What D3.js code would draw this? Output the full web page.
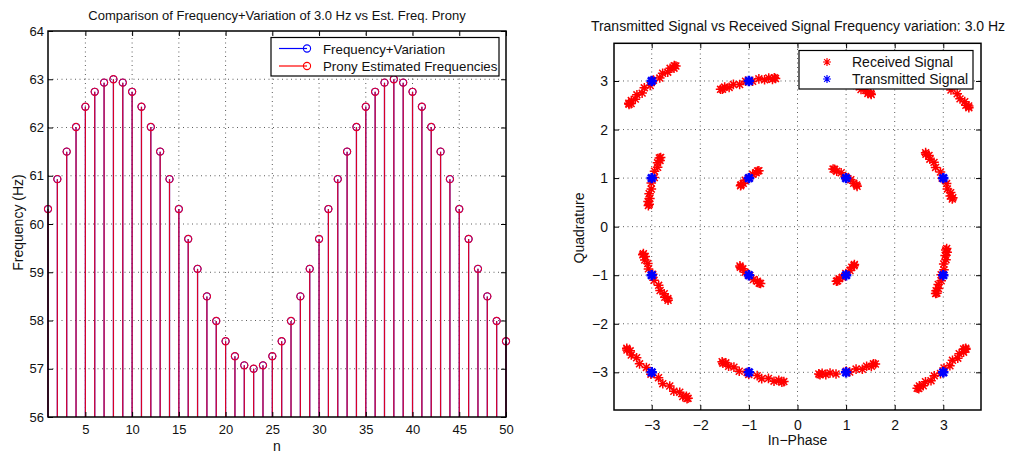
<!DOCTYPE html>
<html>
<head>
<meta charset="utf-8">
<script src="https://cdn.jsdelivr.net/npm/d3@7/dist/d3.min.js"></script>
<style>
  html, body { margin: 0; padding: 0; background: #fff; }
  svg text { font-family: "Liberation Sans", Arial, Helvetica, sans-serif; fill: #111; }
</style>
</head>
<body>
<svg id="chart" width="1011" height="454"></svg>
<script>
// ---- Left panel: frequency with variation vs Prony estimates ----
const sampleIndex = [1,2,3,4,5,6,7,8,9,10,11,12,13,14,15,16,17,18,19,20,21,22,23,24,25,
                     26,27,28,29,30,31,32,33,34,35,36,37,38,39,40,41,42,43,44,45,46,47,48,49,50];
const freqVariation = [60.31,60.93,61.50,62.01,62.43,62.74,62.93,63.00,62.93,62.74,62.43,62.01,61.50,60.93,60.31,
                       59.69,59.07,58.50,57.99,57.57,57.26,57.07,57.00,57.07,57.26,57.57,57.99,58.50,59.07,59.69,
                       60.31,60.93,61.50,62.01,62.43,62.74,62.93,63.00,62.93,62.74,62.43,62.01,61.50,60.93,60.31,
                       59.69,59.07,58.50,57.99,57.57];
const pronyEstimate = [60.31,60.93,61.50,62.01,62.43,62.74,62.93,63.00,62.93,62.74,62.43,62.01,61.50,60.93,60.31,
                       59.69,59.07,58.50,57.99,57.57,57.26,57.07,57.00,57.07,57.26,57.57,57.99,58.50,59.07,59.69,
                       60.31,60.93,61.50,62.01,62.43,62.74,62.93,63.00,62.93,62.74,62.43,62.01,61.50,60.93,60.31,
                       59.69,59.07,58.50,57.99,57.57];
const leftXTicks = [5,10,15,20,25,30,35,40,45,50];
const leftYTicks = [56,57,58,59,60,61,62,63,64];
const leftLegend = ["Frequency+Variation", "Prony Estimated Frequencies"];

// ---- Right panel: 16-QAM constellation, transmitted and received ----
const symI = [-3,-1, 1, 3,-3,-1, 1, 3,-3,-1, 1, 3,-3,-1, 1, 3];
const symQ = [ 3, 3, 3, 3, 1, 1, 1, 1,-1,-1,-1,-1,-3,-3,-3,-3];
// received samples per symbol: phase offset (degrees) and amplitude gain
const recvPhase = [
  [-7.9,-7.6,-7.1,-6.2,-5.0,-3.7,-2.2,-0.5,1.2,2.8,4.3,5.6,6.8,7.8,8.5,8.8,9.0],
  [-10.0,-9.6,-8.8,-7.5,-5.8,-3.8,-1.3,1.2,3.7,5.8,7.7,9.1,10.2,10.8],
  [-10.7,-10.3,-9.4,-8.1,-6.4,-4.2,-1.6,1.0,3.6,5.8,7.8,9.3,10.4,11.0],
  [-10.2,-9.8,-9.2,-8.2,-6.8,-5.2,-3.3,-1.3,0.7,2.5,4.3,6.0,7.4,8.6,9.4,9.8,10.0],
  [-8.4,-8.0,-7.3,-6.1,-4.6,-2.8,-0.5,1.8,4.0,5.9,7.6,8.9,9.8,10.4],
  [-10.4,-9.4,-7.5,-4.5,-0.6,3.4,6.4,8.3,9.3],
  [-10.9,-9.7,-7.3,-3.6,1.2,6.0,9.7,12.1,13.3],
  [-8.3,-7.9,-7.1,-5.9,-4.3,-2.3,0.1,2.5,4.8,6.8,8.6,10.0,11.0,11.6],
  [-8.5,-8.1,-7.3,-6.1,-4.6,-2.6,-0.2,2.1,4.5,6.5,8.3,9.6,10.6,11.2],
  [-10.7,-9.6,-7.3,-3.9,0.7,5.2,8.6,10.9,12.0],
  [-9.5,-8.5,-6.4,-3.3,0.9,5.1,8.2,10.3,11.3],
  [-7.4,-7.1,-6.4,-5.3,-3.9,-2.2,-0.1,2.0,4.1,5.9,7.4,8.7,9.5,10.1],
  [-9.5,-9.1,-8.4,-7.3,-5.8,-4.0,-2.0,0.2,2.4,4.4,6.3,8.1,9.6,11.0,11.8,12.3,12.5],
  [-10.7,-10.2,-9.3,-7.8,-5.9,-3.5,-0.6,0.2,3.3,5.2,7.6,9.8,11.5,12.7,13.4],
  [-10.2,-9.8,-8.9,-7.6,-5.9,-3.8,0.2,1.3,3.9,6.0,7.9,9.4,10.5,11.1],
  [-8.5,-8.2,-7.6,-6.7,-5.5,-4.1,-2.5,-0.8,1.0,2.6,4.2,5.6,6.8,7.9,8.6,8.9,9.1]
];
const recvGain = [
  [0.978,0.984,0.975,0.986,0.979,0.991,0.983,0.997,0.990,1.003,0.994,1.008,1.001,1.012,1.004,1.014,1.010],
  [0.975,0.981,0.973,0.986,0.980,0.995,0.991,1.006,0.999,1.016,1.010,1.025,1.019,1.025],
  [0.985,0.990,0.981,0.992,0.984,0.995,0.987,0.997,0.991,1.001,0.994,1.004,0.997,1.000],
  [1.012,1.016,1.007,1.013,1.003,1.008,0.997,1.004,0.991,0.996,0.985,0.990,0.980,0.986,0.977,0.983,0.980],
  [0.998,1.004,0.993,1.001,0.989,0.998,0.985,0.993,0.982,0.989,0.978,0.986,0.976,0.980],
  [0.990,0.998,0.989,1.005,0.999,1.017,1.010,1.024,1.020],
  [1.047,1.052,1.033,1.034,1.010,1.010,0.988,0.994,0.985],
  [1.023,1.028,1.014,1.021,1.006,1.010,0.993,0.996,0.978,0.982,0.967,0.973,0.960,0.963],
  [1.018,1.023,1.010,1.017,1.003,1.008,0.992,0.997,0.981,0.986,0.971,0.978,0.965,0.969],
  [1.014,1.020,1.005,1.012,0.995,1.001,0.986,0.994,0.987],
  [0.975,0.982,0.972,0.987,0.979,0.995,0.986,1.000,0.995],
  [0.999,1.005,0.994,1.002,0.990,0.999,0.986,0.994,0.982,0.990,0.979,0.988,0.977,0.981],
  [1.017,1.021,1.011,1.019,1.007,1.015,1.002,1.009,0.996,1.004,0.991,0.999,0.986,0.995,0.984,0.992,0.988],
  [1.007,1.013,1.002,1.014,1.004,1.015,1.005,1.014,1.005,1.017,1.006,1.018,1.008,1.018,1.013],
  [0.969,0.976,0.968,0.981,0.976,0.992,0.993,1.006,1.003,1.020,1.014,1.029,1.021,1.028],
  [0.976,0.982,0.973,0.984,0.976,0.989,0.982,0.995,0.988,1.001,0.993,1.006,0.998,1.010,1.001,1.011,1.007]
];
const rightTicks = [-3,-2,-1,0,1,2,3];
const rightLegend = ["Received Signal", "Transmitted Signal"];

const svg = d3.select("#chart");

// dotted grid helper
function grid(g, xs, ys, xVals, yVals) {
  const [x0, x1] = xs.range(), [y0, y1] = ys.range();
  g.selectAll("line.gx").data(xVals).join("line").attr("class", "gx")
    .attr("x1", d => xs(d)).attr("x2", d => xs(d)).attr("y1", y0).attr("y2", y1);
  g.selectAll("line.gy").data(yVals).join("line").attr("class", "gy")
    .attr("y1", d => ys(d)).attr("y2", d => ys(d)).attr("x1", x0).attr("x2", x1);
  g.selectAll("line").attr("stroke", "#333").attr("stroke-width", 0.8)
    .attr("stroke-dasharray", "1,3.5");
}

// box with inward ticks on all four sides
function frame(g, xs, ys, xTicks, yTicks, opt) {
  const [x0, x1] = xs.range(), [y0, y1] = ys.range();
  const styleAxis = a => {
    a.select(".domain").remove();
    a.selectAll(".tick line").attr("stroke", "#000").attr("stroke-width", 1);
    a.selectAll(".tick text").attr("font-size", opt.font).attr("fill", "#111")
      .attr("font-family", '"Liberation Sans", Arial, Helvetica, sans-serif');
  };
  const fmt = d3.format("d");
  g.append("g").attr("transform", `translate(0,${y0})`)
    .call(d3.axisBottom(xs).tickValues(xTicks).tickSize(-5).tickPadding(opt.padX).tickFormat(fmt)).call(styleAxis);
  g.append("g").attr("transform", `translate(0,${y1})`)
    .call(d3.axisTop(xs).tickValues(xTicks).tickSize(-5).tickFormat("")).call(styleAxis);
  g.append("g").attr("transform", `translate(${x0},0)`)
    .call(d3.axisLeft(ys).tickValues(yTicks).tickSize(-5).tickPadding(opt.padY).tickFormat(fmt)).call(styleAxis);
  g.append("g").attr("transform", `translate(${x1},0)`)
    .call(d3.axisRight(ys).tickValues(yTicks).tickSize(-5).tickFormat("")).call(styleAxis);
  g.append("rect").attr("x", x0).attr("y", y1).attr("width", x1 - x0).attr("height", y0 - y1)
    .attr("fill", "none").attr("stroke", "#000").attr("stroke-width", 1.5);
}

// ================= Left panel =================
const xL = d3.scaleLinear().domain([1, 50]).range([48, 506]);
const yL = d3.scaleLinear().domain([56, 64]).range([417, 31]);
const gL = svg.append("g");

grid(gL.append("g"), xL, yL, leftXTicks.filter(d => d < 50), leftYTicks.filter(d => d > 56 && d < 64));

const stemsBlue = gL.append("g");
stemsBlue.selectAll("line").data(freqVariation).join("line")
  .attr("x1", (d, i) => xL(sampleIndex[i])).attr("x2", (d, i) => xL(sampleIndex[i]))
  .attr("y1", yL(56)).attr("y2", d => yL(d))
  .attr("stroke", "#0000ff").attr("stroke-width", 1.2);
stemsBlue.selectAll("circle").data(freqVariation).join("circle")
  .attr("cx", (d, i) => xL(sampleIndex[i])).attr("cy", d => yL(d)).attr("r", 3.6)
  .attr("fill", "none").attr("stroke", "#0000ff").attr("stroke-width", 1);

const stemsRed = gL.append("g");
stemsRed.selectAll("line").data(pronyEstimate).join("line")
  .attr("x1", (d, i) => xL(sampleIndex[i])).attr("x2", (d, i) => xL(sampleIndex[i]))
  .attr("y1", yL(56)).attr("y2", d => yL(d))
  .attr("stroke", "#ff0000").attr("stroke-opacity", 0.85).attr("stroke-width", 1.2);
stemsRed.selectAll("circle").data(pronyEstimate).join("circle")
  .attr("cx", (d, i) => xL(sampleIndex[i])).attr("cy", d => yL(d)).attr("r", 3.6)
  .attr("fill", "none").attr("stroke", "#e8002a").attr("stroke-width", 1.1);

frame(gL, xL, yL, leftXTicks, leftYTicks, { font: 13, padX: 8, padY: 4 });

gL.append("text").attr("x", 277).attr("y", 20).attr("text-anchor", "middle")
  .attr("font-size", 13).text("Comparison of Frequency+Variation of 3.0 Hz vs Est. Freq. Prony");
gL.append("text").attr("x", xL(25.5)).attr("y", 451).attr("text-anchor", "middle")
  .attr("font-size", 14).text("n");
gL.append("text").attr("transform", "translate(23,222.5) rotate(-90)").attr("text-anchor", "middle")
  .attr("font-size", 14).text("Frequency (Hz)");

// legend
const legL = gL.append("g");
legL.append("rect").attr("x", 271).attr("y", 37.5).attr("width", 228).attr("height", 38.5)
  .attr("fill", "#fff").attr("stroke", "#000").attr("stroke-width", 1.2);
const legColors = ["#0000ff", "#ff0000"];
leftLegend.forEach((label, i) => {
  const yy = 48.5 + i * 17.5;
  legL.append("line").attr("x1", 279).attr("x2", 307).attr("y1", yy).attr("y2", yy)
    .attr("stroke", legColors[i]).attr("stroke-width", 1.2);
  legL.append("circle").attr("cx", 307).attr("cy", yy).attr("r", 3.6)
    .attr("fill", "none").attr("stroke", legColors[i]).attr("stroke-width", 1.1);
  legL.append("text").attr("x", 323).attr("y", yy + 5).attr("font-size", 13.3).text(label);
});

// ================= Right panel =================
const lim = 3.776;
const xR = d3.scaleLinear().domain([-lim, lim]).range([614, 981]);
const yR = d3.scaleLinear().domain([-lim, lim]).range([410, 43.3]);
const gR = svg.append("g");

grid(gR.append("g"), xR, yR, rightTicks, rightTicks);

// asterisk marker path ('+' overlaid with 'x')
function asterisk(r) {
  const k = r * 0.72;
  return `M${-r},0H${r}M0,${-r}V${r}M${-k},${-k}L${k},${k}M${-k},${k}L${k},${-k}`;
}

// rotate each transmitted symbol by the recorded phase offset and scale by gain
const received = [];
symI.forEach((si, s) => {
  const sq = symQ[s];
  recvPhase[s].forEach((ph, j) => {
    const a = ph * Math.PI / 180, g = recvGain[s][j];
    received.push([g * (si * Math.cos(a) - sq * Math.sin(a)), g * (si * Math.sin(a) + sq * Math.cos(a))]);
  });
});

gR.append("clipPath").attr("id", "clipR").append("rect")
  .attr("x", 614).attr("y", 43.3).attr("width", 367).attr("height", 366.7);
const marks = gR.append("g").attr("clip-path", "url(#clipR)");
marks.selectAll("path.rx").data(received).join("path").attr("class", "rx")
  .attr("transform", d => `translate(${xR(d[0])},${yR(d[1])})`)
  .attr("d", asterisk(4.8)).attr("stroke", "#ff0000").attr("stroke-width", 1.5).attr("fill", "none");
marks.selectAll("path.tx").data(symI).join("path").attr("class", "tx")
  .attr("transform", (d, i) => `translate(${xR(d)},${yR(symQ[i])})`)
  .attr("d", asterisk(5.2)).attr("stroke", "#0000ff").attr("stroke-width", 2.6).attr("fill", "none");

frame(gR, xR, yR, rightTicks, rightTicks, { font: 14, padX: 10, padY: 6 });

gR.append("text").attr("x", 798).attr("y", 31).attr("text-anchor", "middle")
  .attr("font-size", 14).text("Transmitted Signal vs Received Signal Frequency variation: 3.0 Hz");
gR.append("text").attr("x", xR(0)).attr("y", 445).attr("text-anchor", "middle")
  .attr("font-size", 14).text("In\u2212Phase");
gR.append("text").attr("transform", "translate(584,228) rotate(-90)").attr("text-anchor", "middle")
  .attr("font-size", 14).text("Quadrature");

const legR = gR.append("g");
legR.append("rect").attr("x", 799).attr("y", 50.5).attr("width", 174).attr("height", 38.5)
  .attr("fill", "#fff").attr("stroke", "#000").attr("stroke-width", 1.2);
const legRColors = ["#ff0000", "#0000ff"];
rightLegend.forEach((label, i) => {
  const yy = 62 + i * 17;
  legR.append("path").attr("transform", `translate(827,${yy})`).attr("d", asterisk(4))
    .attr("stroke", legRColors[i]).attr("stroke-width", 1.2).attr("fill", "none");
  legR.append("text").attr("x", 852).attr("y", yy + 5).attr("font-size", 14).text(label);
});
</script>
</body>
</html>
